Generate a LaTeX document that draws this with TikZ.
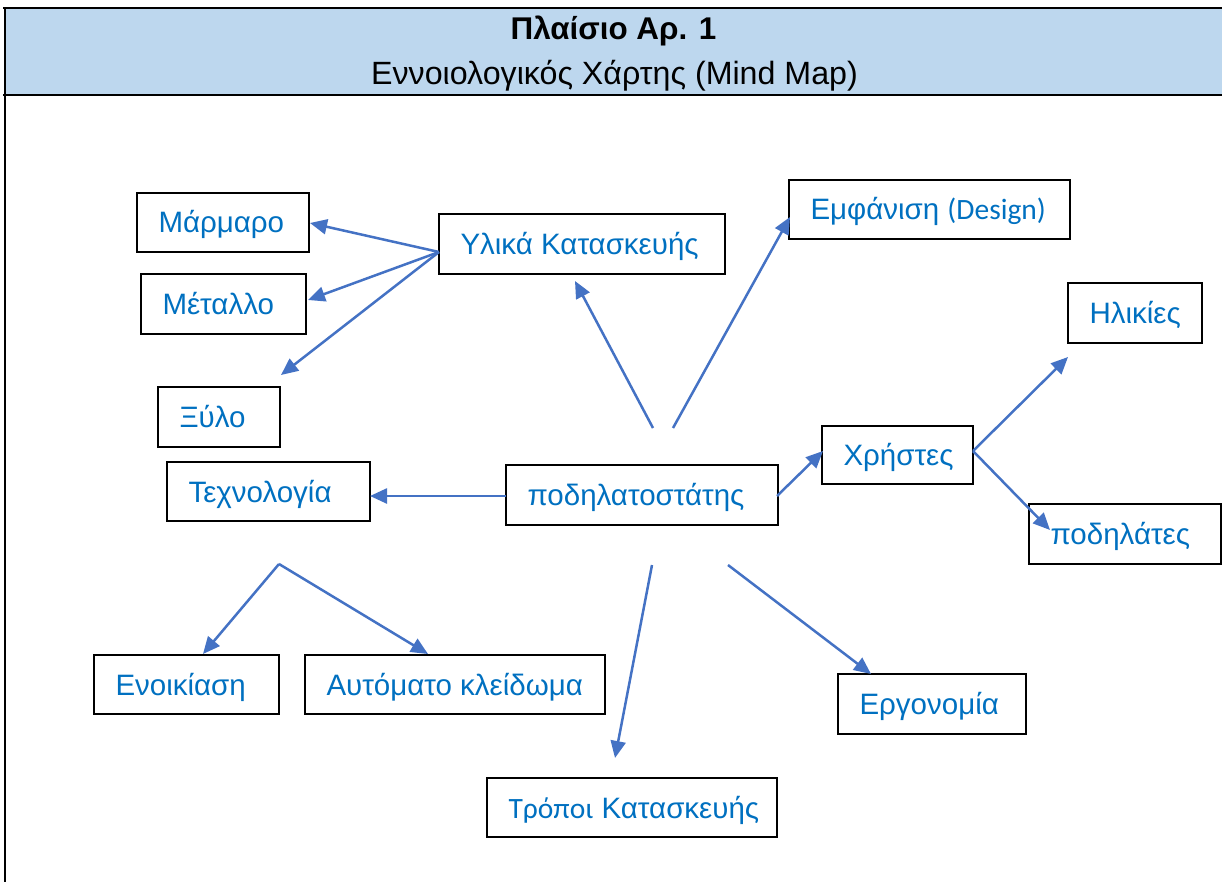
\documentclass[tikz,border=0pt]{standalone}
\usepackage{fontspec}
\setmainfont{Liberation Sans}
\newfontfamily\calib{Carlito}
\usetikzlibrary{arrows.meta}
\definecolor{txtblue}{HTML}{0070C0}
\definecolor{arrblue}{HTML}{4472C4}
\definecolor{hdrblue}{HTML}{BDD7EE}
\tikzset{
  boxnode/.style={draw=black, line width=2.2pt, inner xsep=21.5pt, inner ysep=0pt,
    text=txtblue, font=\fontsize{29.5}{35}\selectfont, text height=21pt, text depth=0pt},
  arr/.style={draw=arrblue, line width=2.5pt, -{Triangle[length=17pt,width=15pt]}},
  frameline/.style={draw=black, line width=2.8pt},
}
% name, x1, y1, x2, y2, text
\newcommand{\mbx}[6]{%
  \node[boxnode, minimum width={(#4-#2)*1pt}, minimum height={(#5-#3)*1pt}]
    (#1) at ({(#2+#4)/2},{(#3+#5)/2}) {\makebox[\dimexpr #4pt-#2pt-43pt\relax][l]{#6}};}
\begin{document}
\begin{tikzpicture}[x=1pt,y=-1pt]
\useasboundingbox (0,0) rectangle (1222,882);
% header
\fill[hdrblue] (4,8) rectangle (1222,95);
\draw[frameline] (3,8) -- (1222,8);
\draw[frameline] (3,95) -- (1222,95);
\draw[frameline] (5,8) -- (5,882);
\node[font=\bfseries\fontsize{31.4}{37}\selectfont, inner sep=0pt, anchor=base] (title) at (613.5,40) {Πλαίσιο Αρ. 1};
\node[font=\fontsize{32.2}{38}\selectfont, inner sep=0pt, anchor=base] (subtitle) at (614.5,85) {Εννοιολογικός Χάρτης (Mind Map)};
% boxes
\mbx{mar}{137}{193}{309}{252}{Μάρμαρο}
\mbx{met}{141}{274}{306}{334}{Μέταλλο}
\mbx{xyl}{158}{387}{280}{447}{Ξύλο}
\mbx{yli}{439}{214}{725}{274}{Υλικά Κατασκευής}
\mbx{emf}{789}{180}{1070}{239}{Εμφάνιση {\calib (Design)}}
\mbx{hli}{1068}{283}{1202}{343}{Ηλικίες}
\mbx{xri}{822}{426}{973}{484}{Χρήστες}
\mbx{pdl}{1029}{504}{1221}{564}{ποδηλάτες}
\mbx{pod}{506}{465}{778}{525}{ποδηλατοστάτης}
\mbx{tex}{167}{462}{370}{521}{Τεχνολογία}
\mbx{eno}{94}{655}{279}{714}{Ενοικίαση}
\mbx{aut}{305}{655}{605}{714}{Αυτόματο κλείδωμα}
\mbx{erg}{838}{674}{1026}{734}{Εργονομία}
\mbx{tro}{487}{778}{777}{837}{{\calib Τρόποι} Κατασκευής}
% connector end points
\coordinate (ylsrc) at (439,252);
\coordinate (martip) at (310,223);
\coordinate (mettip) at (308,300);
\coordinate (xyltip) at (281,375);
\coordinate (upA) at (653,428);
\coordinate (upB) at (673,428);
\coordinate (ylitip) at (575,281);
\coordinate (emftip) at (790,217);
\coordinate (podL) at (506,496);
\coordinate (textip) at (370,496);
\coordinate (podR) at (777,496);
\coordinate (xritip) at (823,451);
\coordinate (xriR) at (973,451);
\coordinate (hlitip) at (1068,357);
\coordinate (pdltip) at (1050,530);
\coordinate (apex) at (279,564);
\coordinate (enotip) at (203,654);
\coordinate (auttip) at (428,654);
\coordinate (dnA) at (652,565);
\coordinate (trotip) at (615,758);
\coordinate (dnB) at (728,565);
\coordinate (ergtip) at (871,674);
% connectors
\draw[arr] (ylsrc) -- (martip);
\draw[arr] (ylsrc) -- (mettip);
\draw[arr] (ylsrc) -- (xyltip);
\draw[arr] (upA) -- (ylitip);
\draw[arr] (upB) -- (emftip);
\draw[arr] (podL) -- (textip);
\draw[arr] (podR) -- (xritip);
\draw[arr] (xriR) -- (hlitip);
\draw[arr] (xriR) -- (pdltip);
\draw[arr] (apex) -- (enotip);
\draw[arr] (apex) -- (auttip);
\draw[arr] (dnA) -- (trotip);
\draw[arr] (dnB) -- (ergtip);
\end{tikzpicture}
\end{document}
